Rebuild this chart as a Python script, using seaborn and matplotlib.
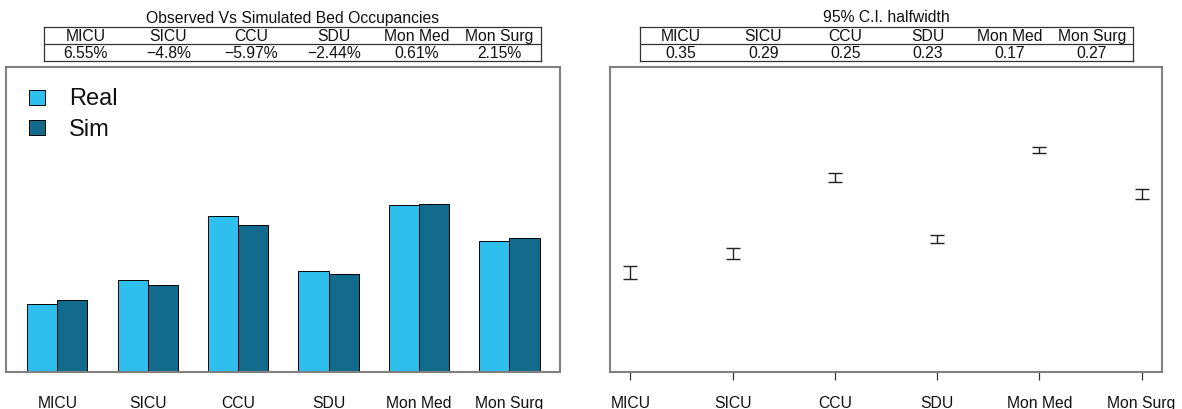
import numpy as np
import pandas as pd
import matplotlib
matplotlib.use("Agg")
import matplotlib.pyplot as plt
import seaborn as sns
from matplotlib.patches import Patch

# 데이터
units = ["MICU", "SICU", "CCU", "SDU", "Mon Med", "Mon Surg"]
real_occ = [4.56, 6.17, 10.47, 6.78, 11.21, 8.79]
sim_occ = [4.86, 5.87, 9.85, 6.61, 11.28, 8.98]
pct_diff = ["6.55%", "\u22124.8%", "\u22125.97%", "\u22122.44%", "0.61%", "2.15%"]
ci_half = [0.35, 0.29, 0.25, 0.23, 0.17, 0.27]
ci_labels = ["0.35", "0.29", "0.25", "0.23", "0.17", "0.27"]

real_col = "#2fbfef"
sim_col = "#126b8c"

sns.set_style("white")
plt.rcParams['font.family'] = ['Liberation Sans', 'DejaVu Sans']
plt.rcParams['text.color'] = '#111111'
plt.rcParams['xtick.labelcolor'] = '#111111'

W, H = 1182, 409
fig = plt.figure(figsize=(W / 100, H / 100), dpi=100)


def fax(x0, y0, x1, y1):
    # 픽셀 좌표 -> figure 좌표
    return fig.add_axes([x0 / W, 1 - y1 / H, (x1 - x0) / W, (y1 - y0) / H])


def draw_table(x0, x1, title, vals):
    tax = fax(x0, 27, x1, 61)
    tax.set_xlim(0, 6)
    tax.set_ylim(0, 2)
    tax.set_xticks([])
    tax.set_yticks([])
    for s in tax.spines.values():
        s.set_color("#333333")
        s.set_linewidth(0.9)
    tax.axhline(1, color="#333333", lw=0.9)
    for i, (u, v) in enumerate(zip(units, vals)):
        tax.text(i + 0.5, 1.47, u, ha="center", va="center", fontsize=11.3)
        tax.text(i + 0.5, 0.47, v, ha="center", va="center", fontsize=11.3)
    fig.text((x0 + x1) / 2 / W, 1 - 18 / H, title, ha="center", va="center", fontsize=11.3)


# 왼쪽: 막대그래프
df = pd.DataFrame({
    "unit": units * 2,
    "occ": real_occ + sim_occ,
    "type": ["Real"] * 6 + ["Sim"] * 6,
})
ax1 = fax(6, 67, 560, 372)
sns.barplot(data=df, x="unit", y="occ", hue="type", palette=[real_col, sim_col],
            saturation=1, width=2 / 3, edgecolor="black", linewidth=0.7, ax=ax1,
            legend=False)
ax1.set_xlim(-0.567, 5.56)
ax1.set_ylim(0, 20.5)
ax1.set_yticks([])
ax1.set_xlabel("")
ax1.set_ylabel("")
ax1.tick_params(axis="x", length=0, pad=17, labelsize=11.3)
handles = [Patch(facecolor=real_col, edgecolor="black", lw=0.7, label="Real"),
           Patch(facecolor=sim_col, edgecolor="black", lw=0.7, label="Sim")]
ax1.legend(handles=handles, loc="upper left", frameon=False, fontsize=17,
           handlelength=0.68, handleheight=0.6, handletextpad=1.0,
           labelspacing=0.36, borderpad=0, borderaxespad=0.0,
           bbox_to_anchor=(0.0415, 0.93))

# 오른쪽: 신뢰구간
ax2 = fax(610, 67, 1162, 372)
xpos = np.arange(len(units))
ax2.errorbar(xpos, sim_occ, yerr=ci_half, fmt="none", ecolor="#222222",
             elinewidth=1.0, capsize=5, capthick=1.0)
ax2.set_xlim(-0.2, 5.2)
ax2.set_ylim(-0.38, 15.65)
ax2.set_xticks(xpos)
ax2.set_xticklabels(units)
ax2.set_yticks([])
ax2.tick_params(axis="x", length=6, width=0.9, color="#333333", pad=11, labelsize=11.3,
                bottom=True, direction="out")

for a in (ax1, ax2):
    for s in a.spines.values():
        s.set_color("#808080")
        s.set_linewidth(1.5)
        s.set_visible(True)

draw_table(44, 541, "Observed Vs Simulated Bed Occupancies", pct_diff)
draw_table(640, 1133, "95% C.I. halfwidth", ci_labels)

fig.savefig("out.png", dpi=100)
